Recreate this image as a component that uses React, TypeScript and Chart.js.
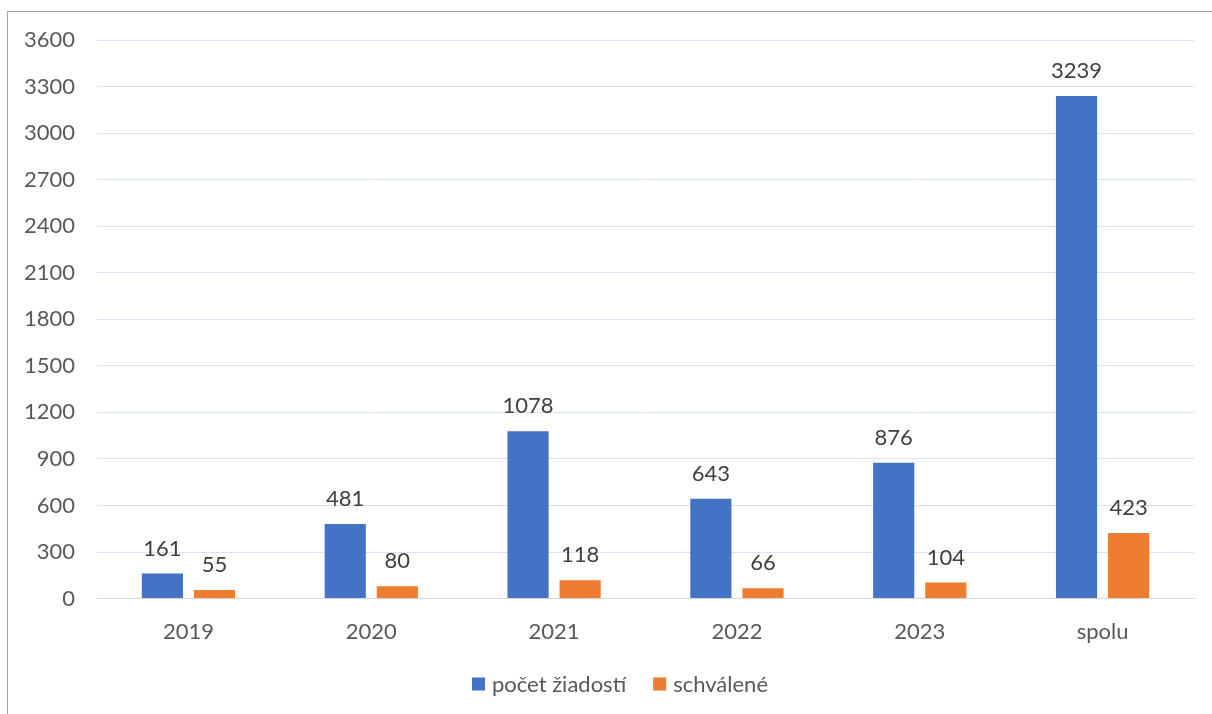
import React, { useEffect, useRef } from "react";
import { Chart, registerables } from "chart.js";

Chart.register(...registerables);

const categories = ["2019", "2020", "2021", "2022", "2023", "spolu"];
const requests = [161, 481, 1078, 643, 876, 3239];
const approved = [55, 80, 118, 66, 104, 423];
const seriesNames = ["počet žiadostí", "schválené"];
const seriesColors = ["#4472c4", "#ed7d31"];
const yTicks = [0, 300, 600, 900, 1200, 1500, 1800, 2100, 2400, 2700, 3000, 3300, 3600];

const FONT = "Lato";
const FS = 22;

const frame = {
  id: "frame",
  beforeDraw(chart: any) {
    const ctx = chart.ctx;
    ctx.save();
    ctx.fillStyle = "#ffffff";
    ctx.fillRect(0, 0, chart.width, chart.height);
    ctx.strokeStyle = "#a6a6a6";
    ctx.lineWidth = 1;
    ctx.strokeRect(7.5, 11.5, 1400, 900);
    ctx.restore();
  },
};

const valueLabels = {
  id: "valueLabels",
  afterDatasetsDraw(chart: any) {
    const ctx = chart.ctx;
    ctx.save();
    ctx.font = `${FS}px ${FONT}`;
    ctx.fillStyle = "#404040";
    ctx.textAlign = "center";
    ctx.textBaseline = "middle";
    chart.data.datasets.forEach((ds: any, i: number) => {
      const meta = chart.getDatasetMeta(i);
      meta.data.forEach((bar: any, j: number) => {
        ctx.fillText(String(ds.data[j]), bar.x, bar.y - 25);
      });
    });
    ctx.restore();
  },
};

const customLegend = {
  id: "customLegend",
  afterDraw(chart: any) {
    const ctx = chart.ctx;
    ctx.save();
    ctx.font = `${FS}px ${FONT}`;
    ctx.textBaseline = "middle";
    const box = 13;
    const boxGap = 7;
    const itemGap = 27;
    const widths = seriesNames.map((n) => ctx.measureText(n).width);
    const total = widths.reduce((a, w) => a + box + boxGap + w, 0) + itemGap * (seriesNames.length - 1);
    let x = 620 - total / 2;
    const cy = 684;
    seriesNames.forEach((n, i) => {
      ctx.fillStyle = seriesColors[i];
      ctx.fillRect(x, cy - box / 2, box, box);
      x += box + boxGap;
      ctx.fillStyle = "#595959";
      ctx.fillText(n, x, cy + 1);
      x += widths[i] + itemGap;
    });
    ctx.restore();
  },
};

export default function App() {
  const ref = useRef<HTMLCanvasElement>(null);
  useEffect(() => {
    const chart = new Chart(ref.current!, {
      type: "bar",
      data: {
        labels: categories,
        datasets: seriesNames.map((name, i) => ({
          label: name,
          data: i === 0 ? requests : approved,
          backgroundColor: seriesColors[i],
          categoryPercentage: 0.57,
          barPercentage: 0.79,
        })),
      },
      options: {
        responsive: false,
        animation: false,
        layout: { padding: { left: 2, right: 18, top: 40, bottom: 49 } },
        plugins: {
          legend: { display: false },
          tooltip: { enabled: false },
        },
        scales: {
          x: {
            grid: { display: false, drawTicks: false },
            border: { color: "#d9d9d9", width: 1 },
            ticks: { font: { family: FONT, size: FS }, color: "#595959", padding: 20 },
          },
          y: {
            min: 0,
            max: 3600,
            afterBuildTicks(axis: any) {
              axis.ticks = yTicks.map((v) => ({ value: v }));
            },
            grid: { color: "#d9e1f2", drawTicks: false },
            border: { display: false },
            ticks: {
              font: { family: FONT, size: FS },
              color: "#595959",
              padding: 22,
              callback: (v: any) => String(v),
            },
          },
        },
      },
      plugins: [frame, valueLabels, customLegend],
    } as any);
    return () => chart.destroy();
  }, []);
  return (
    <div style={{ position: "absolute", left: 0, top: 0, width: 1212, height: 714 }}>
      <canvas ref={ref} width={1212} height={714} style={{ display: "block" }} />
    </div>
  );
}
